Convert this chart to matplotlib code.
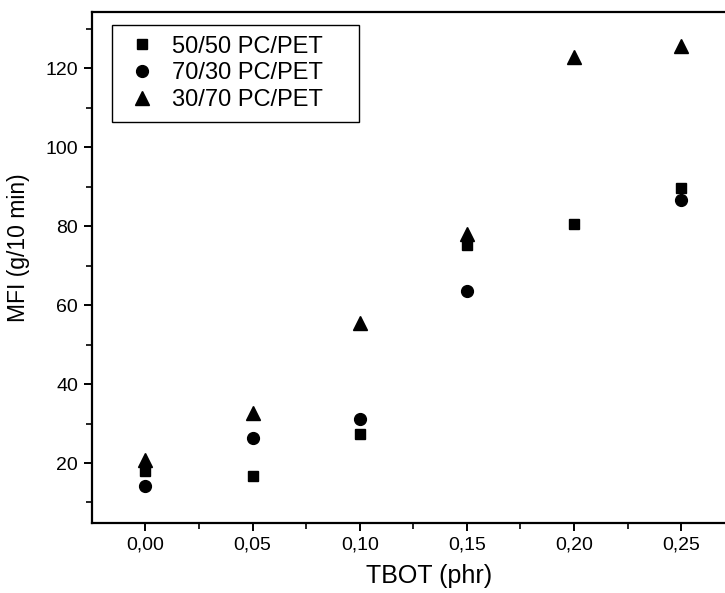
import matplotlib
matplotlib.use("Agg")
import matplotlib.pyplot as plt
from matplotlib.ticker import MultipleLocator, FuncFormatter

plt.rcParams['font.family'] = ['Liberation Sans', 'DejaVu Sans']

tbot = [0.00, 0.05, 0.10, 0.15, 0.20, 0.25]
mfi_50_50 = [17.9, 16.8, 27.3, 75.2, 80.6, 89.7]
tbot_70_30 = [0.00, 0.05, 0.10, 0.15, 0.25]
mfi_70_30 = [14.3, 26.3, 31.1, 63.5, 86.6]
mfi_30_70 = [20.8, 32.7, 55.4, 78.0, 122.8, 125.8]

labels = ["50/50 PC/PET", "70/30 PC/PET", "30/70 PC/PET"]

fig = plt.figure(figsize=(7.25, 5.93), dpi=100)
ax = fig.add_axes([92/725, 70/593, 675/725, 511/593])

ax.plot(tbot, mfi_50_50, linestyle='none', marker='s', ms=7.5, color='black', label=labels[0])
ax.plot(tbot_70_30, mfi_70_30, linestyle='none', marker='o', ms=8.5, color='black', label=labels[1])
ax.plot(tbot, mfi_30_70, linestyle='none', marker='^', ms=9.5, color='black', label=labels[2])

ax.set_xlim(-0.0249, 0.29)
ax.set_ylim(4.8, 134.3)

ax.xaxis.set_major_locator(MultipleLocator(0.05))
ax.xaxis.set_minor_locator(MultipleLocator(0.025))
ax.yaxis.set_major_locator(MultipleLocator(20))
ax.yaxis.set_minor_locator(MultipleLocator(10))
ax.xaxis.set_major_formatter(FuncFormatter(lambda v, p: f"{v:.2f}".replace('.', ',')))
ax.yaxis.set_major_formatter(FuncFormatter(lambda v, p: f"{v:.0f}"))

for s in ax.spines.values():
    s.set_linewidth(1.6)
ax.tick_params(which='major', direction='out', length=6, width=1.4, labelsize=14, pad=4)
ax.tick_params(which='minor', direction='out', length=4, width=1.2)

ax.set_xlabel("TBOT (phr)", fontsize=18, va='top')
ax.set_ylabel("MFI (g/10 min)", fontsize=16.5)
ax.xaxis.set_label_coords(0.5, -0.080)
ax.yaxis.set_label_coords(-0.092, 0.538)

leg = ax.legend(loc='upper left', mode='expand',
                bbox_to_anchor=(20/675, 1 - 108/511, 247/675, 95/511), fontsize=17,
                frameon=True, fancybox=False, framealpha=1, edgecolor='black',
                handlelength=1.6, handletextpad=0.5, labelspacing=0.2,
                borderpad=0.45, borderaxespad=0)
leg.get_frame().set_linewidth(1.0)

fig.savefig("out.png", dpi=100)
